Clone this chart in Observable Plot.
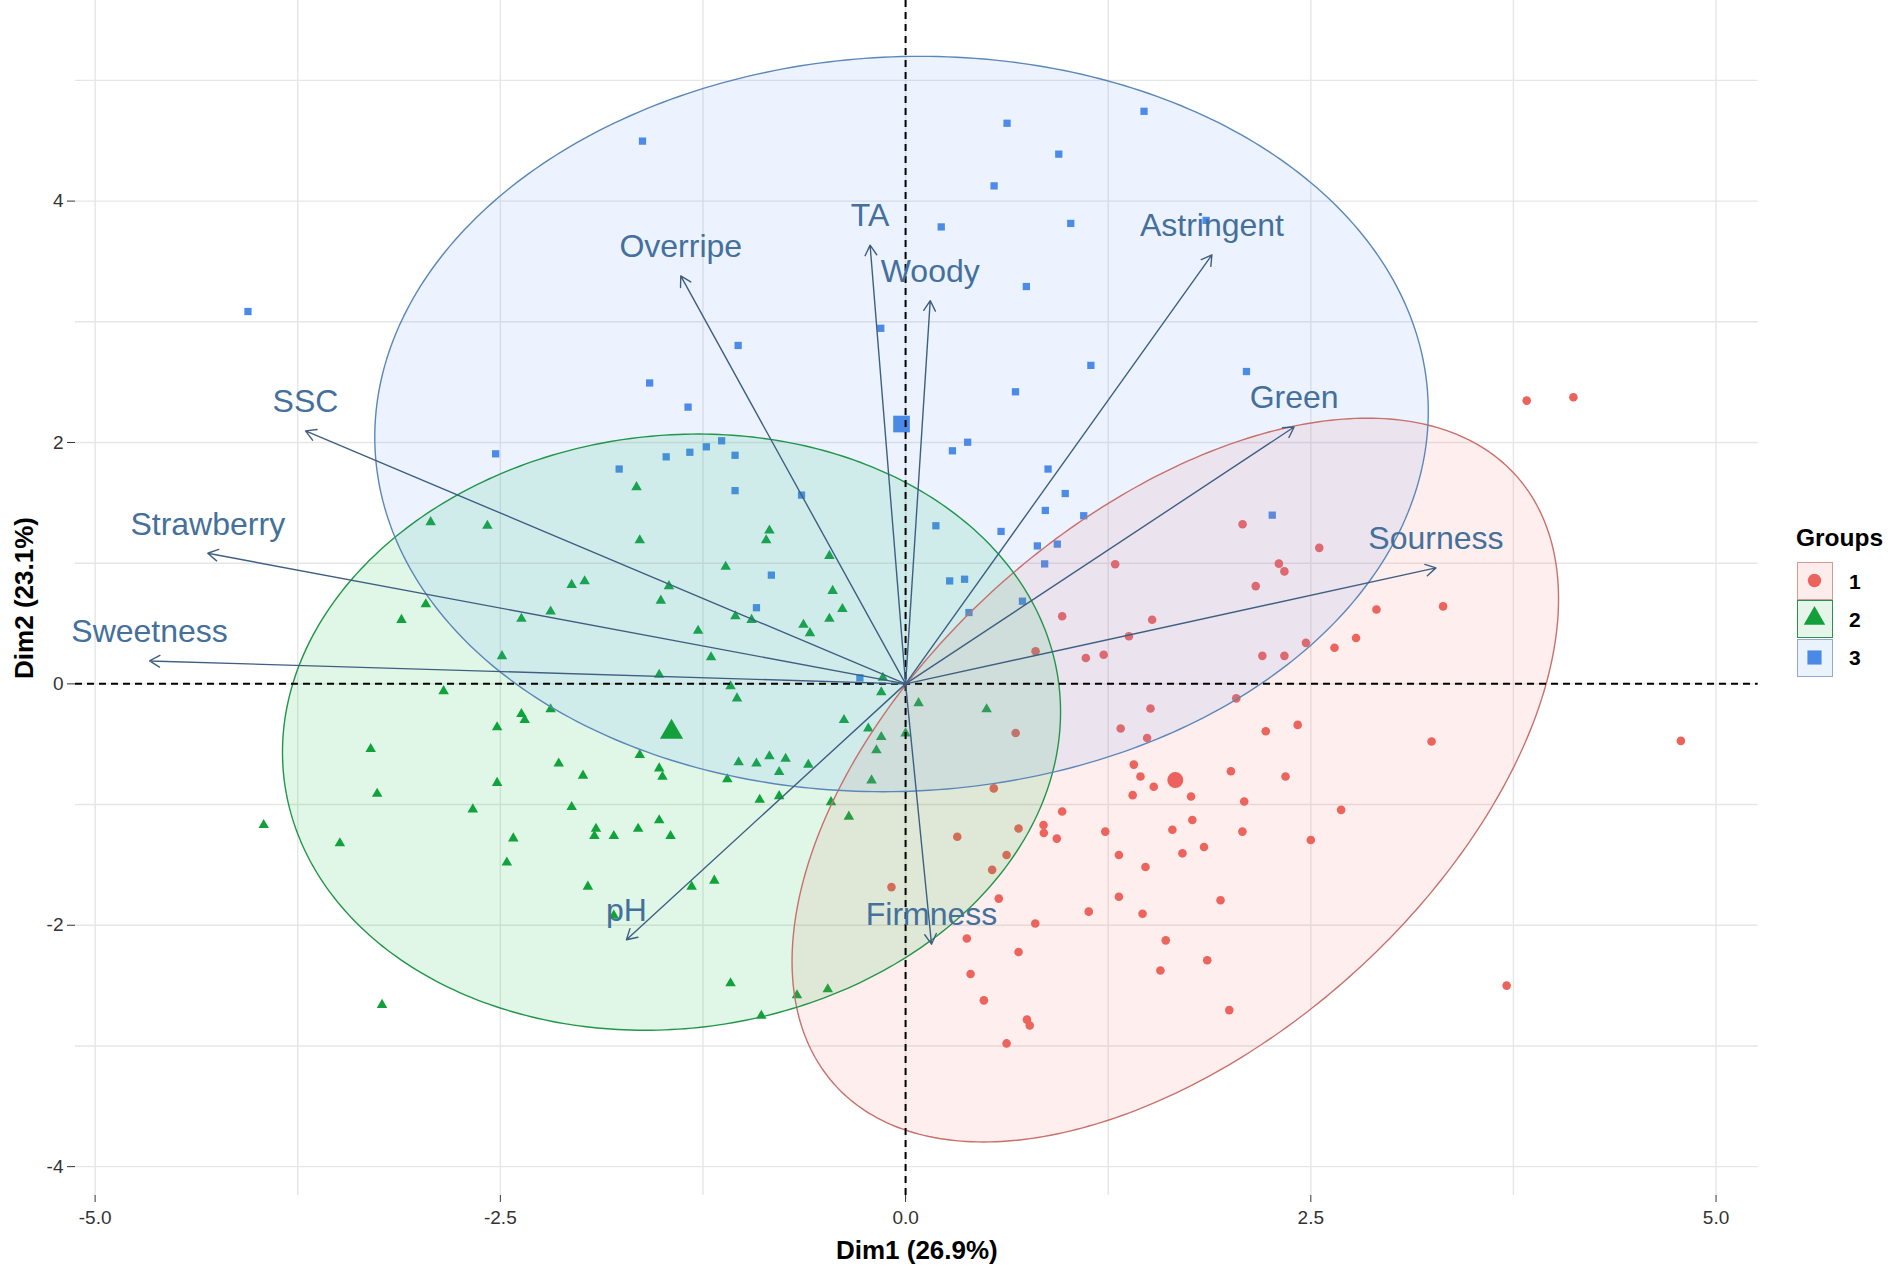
<!DOCTYPE html>
<html><head><meta charset="utf-8">
<script src="https://cdn.jsdelivr.net/npm/d3@7"></script>
<script src="https://cdn.jsdelivr.net/npm/@observablehq/plot@0.6"></script>
<style>
html,body{margin:0;padding:0;background:#fff;}
#wrap{position:relative;width:1900px;height:1277px;overflow:hidden;font-family:'Liberation Sans',Arial,sans-serif;}
#chart svg{display:block;max-width:none;}
.leg-title{position:absolute;left:1796px;top:526px;font-size:24.5px;font-weight:bold;line-height:24px;color:#000;white-space:nowrap;}
.leg-key{position:absolute;left:1797px;width:36px;height:38px;box-sizing:border-box;}
.leg-key svg{position:absolute;left:0;top:0;}
.leg-lab{position:absolute;left:1849px;font-size:21px;font-weight:bold;line-height:21px;color:#000;}
</style></head><body>
<div id="wrap"><div id="chart"></div><div id="legend"></div></div>
<script>
// ---------- data ----------
const groupNames = ["1", "2", "3"];

const group1X = [2.079,2.552,1.293,2.303,2.337,2.160,2.905,3.316,0.966,1.521,1.378,2.779,2.470,2.646,0.802,1.112,1.222,2.201,2.337,2.040,1.511,1.327,1.490,2.222,2.419,3.245,0.679,1.408,1.449,1.531,1.401,1.761,2.007,2.344,2.089,2.687,0.544,0.966,0.697,0.851,0.853,0.933,1.232,1.646,1.769,2.078,2.500,0.319,0.623,1.316,1.708,1.841,1.480,0.534,0.575,1.316,1.943,1.130,1.462,0.800,0.378,0.697,1.605,1.861,1.572,0.401,3.708,0.483,1.997,0.749,0.766,0.623,3.832,4.120,4.783,-0.087];
const group1Y = [1.322,1.127,0.991,0.996,0.932,0.810,0.616,0.642,0.560,0.531,0.395,0.380,0.340,0.299,0.270,0.215,0.241,0.232,0.232,-0.120,-0.204,-0.370,-0.448,-0.393,-0.340,-0.477,-0.407,-0.669,-0.768,-0.852,-0.922,-0.933,-0.724,-0.768,-0.974,-1.044,-0.866,-1.058,-1.198,-1.169,-1.235,-1.282,-1.224,-1.209,-1.128,-1.224,-1.294,-1.267,-1.418,-1.418,-1.404,-1.352,-1.517,-1.541,-1.779,-1.764,-1.793,-1.887,-1.904,-1.985,-2.110,-2.221,-2.125,-2.290,-2.375,-2.404,-2.500,-2.622,-2.703,-2.782,-2.831,-2.979,2.347,2.375,-0.472,-1.684];

const group2X = [-1.66,-2.93,-2.58,-1.64,-1.11,-2.06,-1.98,-1.46,-1.51,-2.96,-3.11,-2.37,-2.19,-1.05,-1.28,-2.49,-1.20,-1.52,-1.08,-1.04,-2.85,-2.19,-2.37,-2.35,-2.52,-3.30,-1.64,-2.14,-1.99,-1.52,-1.50,-1.10,-1.03,-2.52,-3.26,-2.67,-2.06,-1.91,-1.92,-1.80,-1.65,-1.52,-1.45,-2.42,-3.96,-3.49,-0.84,-0.86,-0.47,-0.45,-0.39,-0.47,-0.63,-0.59,-0.95,-0.14,-0.15,0.08,0.50,-0.38,-0.23,-0.15,0.00,-0.18,-0.92,-0.84,-0.74,-0.78,-0.60,-0.21,-0.90,-0.78,-0.46,-0.35,-2.46,-1.96,-1.32,-1.18,-1.08,-0.89,-0.67,-0.48,-3.23,-1.80];
const group2Y = [1.63,1.34,1.31,1.19,0.97,0.82,0.85,0.81,0.69,0.66,0.53,0.54,0.60,0.56,0.44,0.23,0.22,0.075,-0.02,-0.12,-0.06,-0.21,-0.25,-0.30,-0.36,-0.54,-0.59,-0.66,-0.76,-0.70,-0.77,-0.79,-0.65,-0.82,-0.91,-1.04,-1.02,-1.20,-1.26,-1.26,-1.20,-1.13,-1.26,-1.28,-1.17,-1.32,1.27,1.19,1.06,0.77,0.62,0.54,0.49,0.42,0.53,0.05,-0.07,-0.16,-0.21,-0.30,-0.37,-0.44,-0.41,-0.55,-0.66,-0.60,-0.62,-0.73,-0.67,-0.80,-0.96,-0.93,-0.98,-1.10,-1.48,-1.68,-1.68,-1.63,-2.48,-2.75,-2.58,-2.53,-2.66,-1.92];

const group3X = [-4.057,-1.623,0.626,1.471,0.945,0.546,0.220,1.019,1.854,0.745,-0.153,-1.033,1.143,2.103,-1.579,-1.342,0.678,-2.529,-1.135,-1.229,-1.052,-1.331,-1.477,-1.767,0.383,0.289,0.879,-1.052,-0.642,0.985,0.862,1.099,2.262,0.187,0.589,0.813,0.936,-0.828,0.858,0.272,0.364,-0.920,0.721,0.391,-0.282];
const group3Y = [3.085,4.497,4.645,4.744,4.389,4.126,3.786,3.815,3.840,3.292,2.946,2.804,2.639,2.588,2.493,2.293,2.420,1.906,2.014,1.964,1.894,1.919,1.881,1.780,2.002,1.931,1.780,1.601,1.564,1.577,1.437,1.393,1.398,1.310,1.263,1.143,1.158,0.901,0.994,0.853,0.867,0.631,0.685,0.591,0.050];

// group means (large symbols)
const centroidX = [1.664, -1.444, -0.025];
const centroidY = [-0.797, -0.400, 2.153];

// concentration ellipses: centre and quadratic-form matrix
const ellipseCX = [1.664, -1.444, -0.025];
const ellipseCY = [-0.797, -0.400, 2.153];
const ellipseVX = [5.59, 5.76, 10.56];
const ellipseVY = [8.99, 6.10, 9.28];
const ellipseCXY = [3.55, 0.40, 0.35];

// variables (arrows)
const varNames = ["Sweetness","Strawberry","SSC","Overripe","TA","Woody","Astringent","Green","Sourness","pH","Firmness"];
const varX = [-4.664,-4.305,-3.702,-1.387,-0.219,0.152,1.890,2.397,3.272,-1.722,0.160];
const varY = [0.190,1.082,2.096,3.380,3.635,3.175,3.555,2.128,0.961,-2.120,-2.157];

const xTicks = [-5, -2.5, 0, 2.5, 5];
const yTicks = [-4, -2, 0, 2, 4];
const xGrid = [-5, -3.75, -2.5, -1.25, 0, 1.25, 2.5, 3.75, 5];
const yGrid = [-4, -3, -2, -1, 0, 1, 2, 3, 4, 5];
const xTitle = "Dim1 (26.9%)";
const yTitle = "Dim2 (23.1%)";
const legendTitle = "Groups";

// ---------- styles ----------
const pointColors = ["#EC625C", "#13A03C", "#4A89E6"];
const fillColors = ["#F8766D", "#00BA38", "#619CFF"];
const strokeColors = ["#C8706C", "#22954A", "#5B87B8"];
const symbols = ["circle", "triangle", "square"];
const smallR = [4.3, 3.9, 4.1];
const bigR = [8.0, 8.6, 9.4];
const varTextColor = "#44709B";
const varLineColor = "#3F5F82";

// ---------- derived tables ----------
const groupsX = [group1X, group2X, group3X];
const groupsY = [group1Y, group2Y, group3Y];
const pointTables = groupsX.map((xs, g) => xs.map((x, i) => ({x, y: groupsY[g][i]})));
const centroidTables = centroidX.map((x, g) => [{x, y: centroidY[g]}]);
const varRows = varNames.map((name, i) => ({name, x: varX[i], y: varY[i]}));

function ellipseBand(g) {
  const cx = ellipseCX[g], cy = ellipseCY[g], a = ellipseVX[g], b = ellipseVY[g], c = ellipseCXY[g];
  const sa = Math.sqrt(a), k = c / sa, sb = Math.sqrt(b - c * c / a);
  const band = [], loop = [];
  for (let j = 0; j <= 180; j++) {
    const t = Math.PI * j / 180;
    band.push({x: cx + sa * Math.cos(t), lo: cy + k * Math.cos(t) - sb * Math.sin(t), hi: cy + k * Math.cos(t) + sb * Math.sin(t)});
  }
  for (let j = 0; j <= 360; j++) {
    const t = Math.PI * j / 180;
    loop.push({x: cx + sa * Math.cos(t), y: cy + k * Math.cos(t) + sb * Math.sin(t)});
  }
  return {band, loop};
}
const ellipses = [0, 1, 2].map(ellipseBand);

const marks = [
  Plot.gridX(xGrid, {stroke: "#E6E6E6", strokeOpacity: 1, strokeWidth: 1.4}),
  Plot.gridY(yGrid, {stroke: "#E6E6E6", strokeOpacity: 1, strokeWidth: 1.4}),
  Plot.axisX(xTicks, {tickFormat: d => d.toFixed(1), tickSize: 7, tickPadding: 8, fontSize: 19, label: null}),
  Plot.axisY(yTicks, {tickFormat: d => String(d), tickSize: 8, tickPadding: 4, fontSize: 19, label: null})
];
[0, 1, 2].forEach(g => {
  marks.push(Plot.dot(pointTables[g], {x: "x", y: "y", symbol: symbols[g], r: smallR[g], fill: pointColors[g], stroke: "none"}));
});
[0, 1, 2].forEach(g => {
  marks.push(Plot.area(ellipses[g].band, {x1: "x", y1: "lo", y2: "hi", fill: fillColors[g], fillOpacity: 0.12}));
});
[0, 1, 2].forEach(g => {
  marks.push(Plot.line(ellipses[g].loop, {x: "x", y: "y", stroke: strokeColors[g], strokeWidth: 1.4}));
});
[0, 1, 2].forEach(g => {
  marks.push(Plot.dot(centroidTables[g], {x: "x", y: "y", symbol: symbols[g], r: bigR[g], fill: pointColors[g], stroke: "none"}));
});
marks.push(
  Plot.ruleX([0], {stroke: "#000", strokeWidth: 2, strokeDasharray: "7,5"}),
  Plot.ruleY([0], {stroke: "#000", strokeWidth: 2, strokeDasharray: "7,5"}),
  Plot.arrow(varRows, {x1: () => 0, y1: () => 0, x2: "x", y2: "y", stroke: varLineColor, strokeWidth: 1.4, headLength: 12.5, headAngle: 60}),
  Plot.text(varRows, {x: "x", y: "y", text: "name", dy: -29, fontSize: 32, fill: varTextColor, lineAnchor: "middle", textAnchor: "middle"}),
  Plot.text([xTitle], {text: d => d, frameAnchor: "bottom", dy: 55, fontSize: 26, fontWeight: "bold", fill: "#000", lineAnchor: "middle", textAnchor: "middle"}),
  Plot.text([yTitle], {text: d => d, frameAnchor: "left", dx: -51, rotate: -90, fontSize: 26, fontWeight: "bold", fill: "#000", lineAnchor: "middle", textAnchor: "middle"})
);

const chart = Plot.plot({
  width: 1900,
  height: 1277,
  marginLeft: 75,
  marginRight: 142.3,
  marginTop: 0,
  marginBottom: 82,
  x: {domain: [-5.121, 5.260]},
  y: {domain: [-4.239, 5.662]},
  style: {fontFamily: "'Liberation Sans', Arial, sans-serif", color: "#333", background: "#fff"},
  marks
});
document.getElementById("chart").appendChild(chart);

// ---------- legend ----------
const legend = document.getElementById("legend");
const t = document.createElement("div");
t.className = "leg-title";
t.textContent = legendTitle;
legend.appendChild(t);
const keyTops = [562, 600, 638.5];
const legendFill = ["#FCEDEC", "#E6F5EA", "#EAF2FC"];
const legendBorder = ["#D39A97", "#2E8F50", "#93AACB"];
const keySymbolSize = [140, 200, 200];
groupNames.forEach((name, g) => {
  const box = document.createElement("div");
  box.className = "leg-key";
  box.style.top = keyTops[g] + "px";
  box.style.background = legendFill[g];
  box.style.border = "1.6px solid " + legendBorder[g];
  const ns = "http://www.w3.org/2000/svg";
  const svg = document.createElementNS(ns, "svg");
  svg.setAttribute("width", 33);
  svg.setAttribute("height", 35);
  const p = document.createElementNS(ns, "path");
  const sym = [d3.symbolCircle, d3.symbolTriangle, d3.symbolSquare][g];
  p.setAttribute("d", d3.symbol(sym, keySymbolSize[g])());
  p.setAttribute("transform", "translate(16.5,17.5)");
  p.setAttribute("fill", pointColors[g]);
  svg.appendChild(p);
  box.appendChild(svg);
  legend.appendChild(box);
  const lab = document.createElement("div");
  lab.className = "leg-lab";
  lab.style.top = (keyTops[g] + 19 - 10.5) + "px";
  lab.textContent = name;
  legend.appendChild(lab);
});
</script></body></html>
